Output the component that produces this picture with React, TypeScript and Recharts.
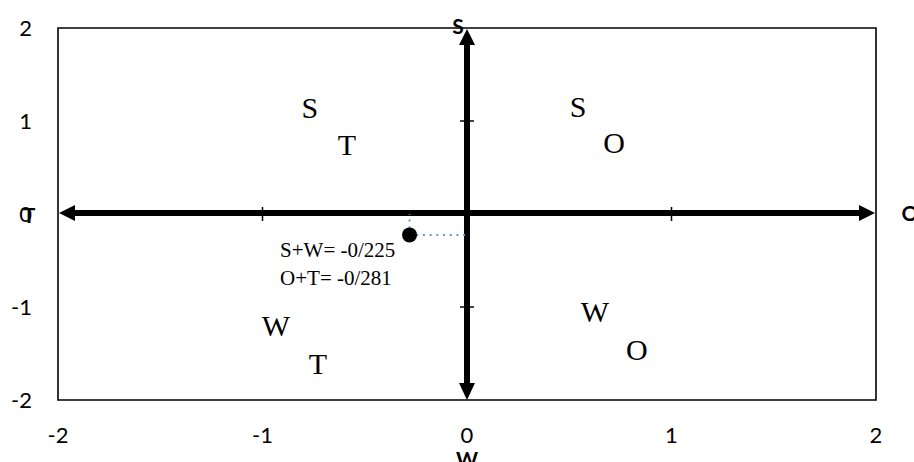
import React from 'react';
import {
  ScatterChart,
  Scatter,
  XAxis,
  YAxis,
  ReferenceLine,
  ReferenceArea,
  ReferenceDot,
} from 'recharts';

// Axis ticks
const axisTicks = [-2, -1, 0, 1, 2];
const innerTicks = [-1, 1];

// Quadrant letters (data coordinates)
const quadrantLetters = [
  { x: -0.768, y: 1.14, label: 'S' },
  { x: -0.587, y: 0.742, label: 'T' },
  { x: 0.543, y: 1.15, label: 'S' },
  { x: 0.719, y: 0.763, label: 'O' },
  { x: -0.934, y: -1.204, label: 'W' },
  { x: -0.729, y: -1.613, label: 'T' },
  { x: 0.626, y: -1.054, label: 'W' },
  { x: 0.831, y: -1.462, label: 'O' },
];

// Result point
const resultPoint = [{ x: -0.281, y: -0.225 }];

// Annotation texts
const annotations = [
  { x: -0.914, y: -0.387, label: 'S+W= -0/225' },
  { x: -0.914, y: -0.688, label: 'O+T= -0/281' },
];

// Axis end titles
const axisTitles = [
  { x: -0.044, y: 2.02, label: 'S' },
  { x: 2.166, y: 0.01, label: 'O' },
  { x: -2.142, y: -0.02, label: 'T' },
  { x: 0, y: -2.64, label: 'W' },
];

const HEAD_LEN = 17;
const HEAD_HALF = 8;
const SHAFT = 6;

const vArrow = (p: any) => {
  const x = p.x1;
  const top = Math.min(p.y1, p.y2);
  const bottom = Math.max(p.y1, p.y2);
  return (
    <g>
      <line x1={x} y1={top + HEAD_LEN - 1} x2={x} y2={bottom - HEAD_LEN + 1} stroke="#000" strokeWidth={SHAFT} />
      <polygon points={`${x},${top + 1} ${x - HEAD_HALF},${top + HEAD_LEN} ${x + HEAD_HALF},${top + HEAD_LEN}`} fill="#000" />
      <polygon points={`${x},${bottom} ${x - HEAD_HALF},${bottom - HEAD_LEN} ${x + HEAD_HALF},${bottom - HEAD_LEN}`} fill="#000" />
    </g>
  );
};

const hArrow = (p: any) => {
  const y = p.y1 - 1;
  const left = Math.min(p.x1, p.x2);
  const right = Math.max(p.x1, p.x2);
  return (
    <g>
      <line x1={left + HEAD_LEN - 1} y1={y} x2={right - HEAD_LEN + 1} y2={y} stroke="#000" strokeWidth={SHAFT} />
      <polygon points={`${left + 1},${y} ${left + HEAD_LEN},${y - HEAD_HALF} ${left + HEAD_LEN},${y + HEAD_HALF}`} fill="#000" />
      <polygon points={`${right - 1},${y} ${right - HEAD_LEN},${y - HEAD_HALF} ${right - HEAD_LEN},${y + HEAD_HALF}`} fill="#000" />
    </g>
  );
};

const letterShape = (p: any) => (
  <text
    x={p.cx}
    y={p.cy}
    dy="0.33em"
    textAnchor="middle"
    fontFamily="'Liberation Serif', 'Times New Roman', serif"
    fontSize={30}
    fill="#000"
  >
    {p.payload.label}
  </text>
);

const annotationShape = (p: any) => (
  <text
    x={p.cx}
    y={p.cy}
    dy="0.33em"
    textAnchor="start"
    fontFamily="'Liberation Serif', 'Times New Roman', serif"
    fontSize={21}
    fill="#000"
  >
    {p.payload.label}
  </text>
);

const pointShape = (p: any) => <circle cx={p.cx} cy={p.cy} r={7.5} fill="#000" />;

const tickStyle = { fontFamily: 'Lato, sans-serif', fontSize: 22, fill: '#000' };

export default function App() {
  return (
    <div style={{ position: 'absolute', left: 0, top: 0, width: 914, height: 462, background: '#fff' }}>
      <ScatterChart width={914} height={462} margin={{ top: 28, right: 38, bottom: 0, left: 0 }}>
        <XAxis
          type="number"
          dataKey="x"
          domain={[-2, 2]}
          ticks={axisTicks}
          axisLine={false}
          tickLine={false}
          tickSize={0}
          tickMargin={27}
          height={62}
          tick={tickStyle}
        />
        <YAxis
          type="number"
          dataKey="y"
          domain={[-2, 2]}
          ticks={axisTicks}
          axisLine={false}
          tickLine={false}
          tickSize={0}
          tickMargin={26}
          width={58}
          tick={tickStyle}
        />
        <ReferenceArea x1={-2} x2={2} y1={-2} y2={2} fill="none" fillOpacity={0} stroke="#000" strokeWidth={1.6} ifOverflow="visible" />
        <ReferenceLine x={0} shape={vArrow} ifOverflow="visible" />
        <ReferenceLine y={0} shape={hArrow} ifOverflow="visible" />
        {innerTicks.map((t) => (
          <ReferenceLine
            key={`xt${t}`}
            segment={[{ x: t, y: -0.075 }, { x: t, y: 0.075 }]}
            stroke="#000"
            strokeWidth={1.5}
            ifOverflow="visible"
          />
        ))}
        {innerTicks.map((t) => (
          <ReferenceLine
            key={`yt${t}`}
            segment={[{ x: -0.034, y: t }, { x: 0.034, y: t }]}
            stroke="#000"
            strokeWidth={1.5}
            ifOverflow="visible"
          />
        ))}
        <ReferenceLine
          segment={[{ x: resultPoint[0].x, y: resultPoint[0].y }, { x: resultPoint[0].x, y: 0 }]}
          stroke="#5B9BD5"
          strokeWidth={2}
          strokeDasharray="2 4.7"
          ifOverflow="visible"
        />
        <ReferenceLine
          segment={[{ x: resultPoint[0].x, y: resultPoint[0].y }, { x: 0, y: resultPoint[0].y }]}
          stroke="#5B9BD5"
          strokeWidth={2}
          strokeDasharray="2 4.7"
          ifOverflow="visible"
        />
        <Scatter data={resultPoint} shape={pointShape} isAnimationActive={false} />
        <Scatter data={quadrantLetters} shape={letterShape} isAnimationActive={false} />
        <Scatter data={annotations} shape={annotationShape} isAnimationActive={false} />
        {axisTitles.map((t, i) => (
          <ReferenceDot
            key={`at${i}`}
            x={t.x}
            y={t.y}
            ifOverflow="visible"
            shape={(p: any) => (
              <text
                x={p.cx}
                y={p.cy}
                dy="0.36em"
                textAnchor="middle"
                fontFamily="Lato, sans-serif"
                fontWeight="bold"
                fontSize={21}
                fill="#000"
              >
                {t.label}
              </text>
            )}
          />
        ))}
      </ScatterChart>
    </div>
  );
}
